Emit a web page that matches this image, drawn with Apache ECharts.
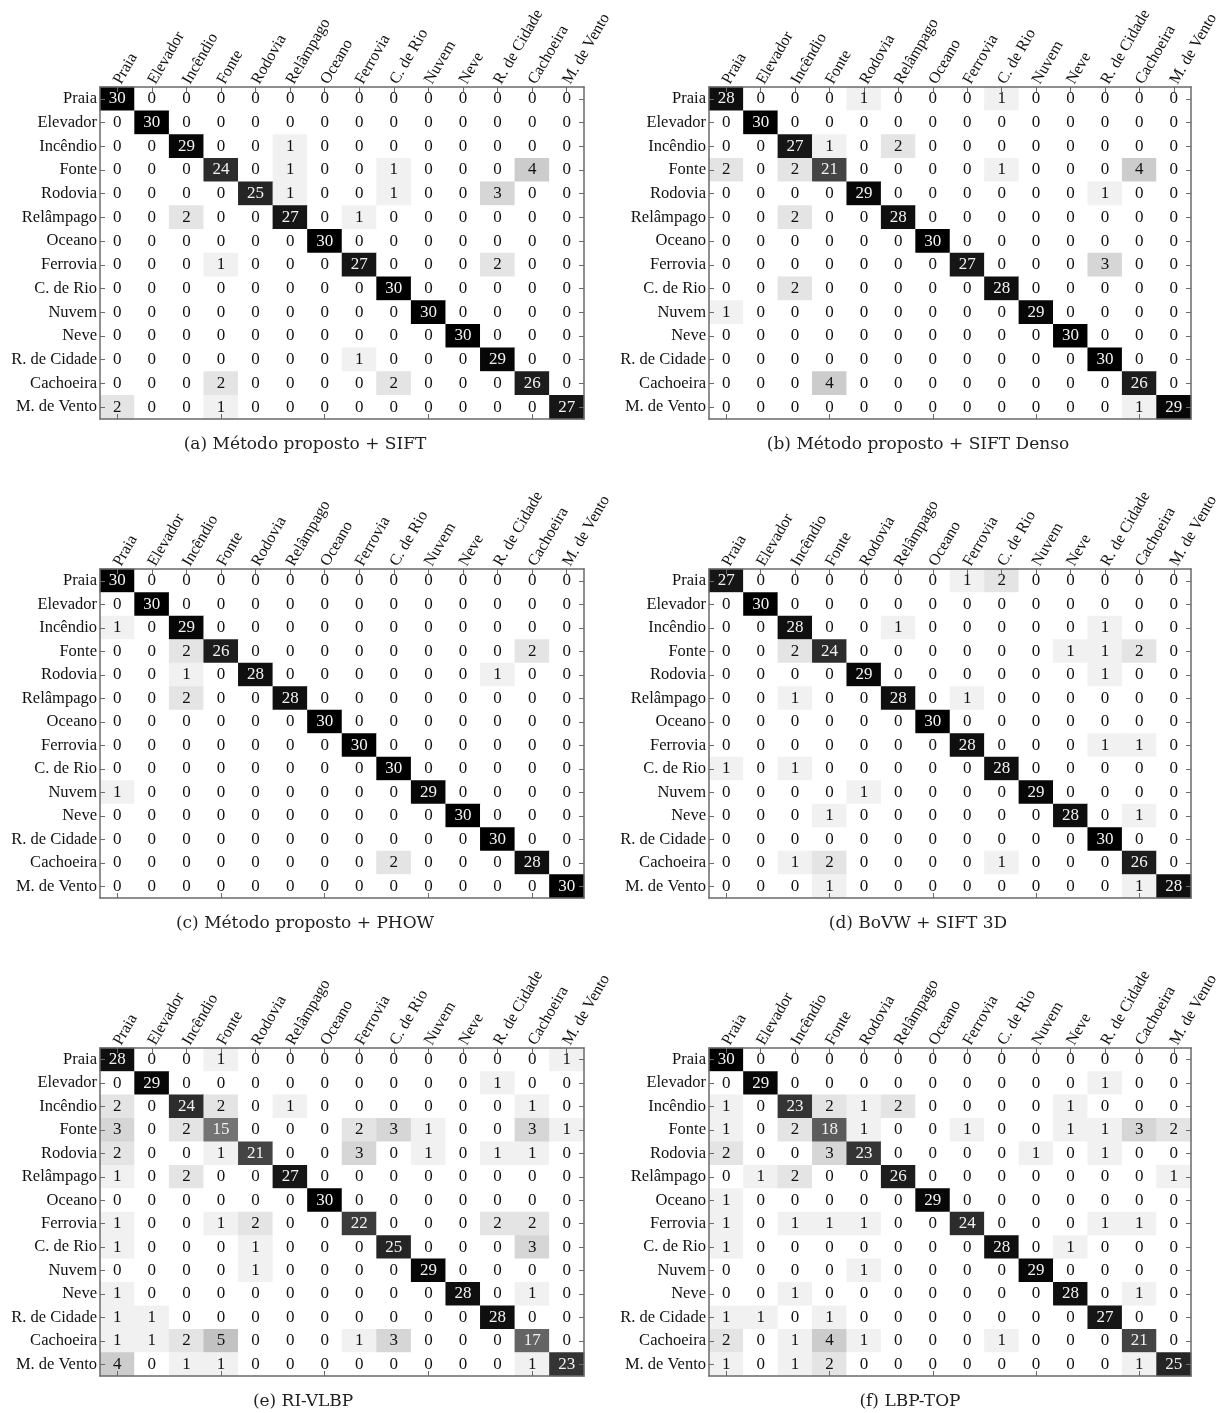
<!DOCTYPE html>
<html>
<head>
<meta charset="utf-8">
<script src="https://cdn.jsdelivr.net/npm/echarts@6/dist/echarts.min.js"></script>
<style>
  html, body { margin: 0; padding: 0; background: #fff; }
  #chart { width: 1230px; height: 1413px; }
</style>
</head>
<body>
<div id="chart"></div>
<script>
// classes: rows = real class, columns = predicted class
var classes = ['Praia', 'Elevador', 'Incêndio', 'Fonte', 'Rodovia', 'Relâmpago', 'Oceano',
  'Ferrovia', 'C. de Rio', 'Nuvem', 'Neve', 'R. de Cidade', 'Cachoeira', 'M. de Vento'];

// (a) Método proposto + SIFT
var matSift = [
  [30, 0, 0, 0, 0, 0, 0, 0, 0, 0, 0, 0, 0, 0],
  [0, 30, 0, 0, 0, 0, 0, 0, 0, 0, 0, 0, 0, 0],
  [0, 0, 29, 0, 0, 1, 0, 0, 0, 0, 0, 0, 0, 0],
  [0, 0, 0, 24, 0, 1, 0, 0, 1, 0, 0, 0, 4, 0],
  [0, 0, 0, 0, 25, 1, 0, 0, 1, 0, 0, 3, 0, 0],
  [0, 0, 2, 0, 0, 27, 0, 1, 0, 0, 0, 0, 0, 0],
  [0, 0, 0, 0, 0, 0, 30, 0, 0, 0, 0, 0, 0, 0],
  [0, 0, 0, 1, 0, 0, 0, 27, 0, 0, 0, 2, 0, 0],
  [0, 0, 0, 0, 0, 0, 0, 0, 30, 0, 0, 0, 0, 0],
  [0, 0, 0, 0, 0, 0, 0, 0, 0, 30, 0, 0, 0, 0],
  [0, 0, 0, 0, 0, 0, 0, 0, 0, 0, 30, 0, 0, 0],
  [0, 0, 0, 0, 0, 0, 0, 1, 0, 0, 0, 29, 0, 0],
  [0, 0, 0, 2, 0, 0, 0, 0, 2, 0, 0, 0, 26, 0],
  [2, 0, 0, 1, 0, 0, 0, 0, 0, 0, 0, 0, 0, 27]
];

// (b) Método proposto + SIFT Denso
var matSiftDenso = [
  [28, 0, 0, 0, 1, 0, 0, 0, 1, 0, 0, 0, 0, 0],
  [0, 30, 0, 0, 0, 0, 0, 0, 0, 0, 0, 0, 0, 0],
  [0, 0, 27, 1, 0, 2, 0, 0, 0, 0, 0, 0, 0, 0],
  [2, 0, 2, 21, 0, 0, 0, 0, 1, 0, 0, 0, 4, 0],
  [0, 0, 0, 0, 29, 0, 0, 0, 0, 0, 0, 1, 0, 0],
  [0, 0, 2, 0, 0, 28, 0, 0, 0, 0, 0, 0, 0, 0],
  [0, 0, 0, 0, 0, 0, 30, 0, 0, 0, 0, 0, 0, 0],
  [0, 0, 0, 0, 0, 0, 0, 27, 0, 0, 0, 3, 0, 0],
  [0, 0, 2, 0, 0, 0, 0, 0, 28, 0, 0, 0, 0, 0],
  [1, 0, 0, 0, 0, 0, 0, 0, 0, 29, 0, 0, 0, 0],
  [0, 0, 0, 0, 0, 0, 0, 0, 0, 0, 30, 0, 0, 0],
  [0, 0, 0, 0, 0, 0, 0, 0, 0, 0, 0, 30, 0, 0],
  [0, 0, 0, 4, 0, 0, 0, 0, 0, 0, 0, 0, 26, 0],
  [0, 0, 0, 0, 0, 0, 0, 0, 0, 0, 0, 0, 1, 29]
];

// (c) Método proposto + PHOW
var matPhow = [
  [30, 0, 0, 0, 0, 0, 0, 0, 0, 0, 0, 0, 0, 0],
  [0, 30, 0, 0, 0, 0, 0, 0, 0, 0, 0, 0, 0, 0],
  [1, 0, 29, 0, 0, 0, 0, 0, 0, 0, 0, 0, 0, 0],
  [0, 0, 2, 26, 0, 0, 0, 0, 0, 0, 0, 0, 2, 0],
  [0, 0, 1, 0, 28, 0, 0, 0, 0, 0, 0, 1, 0, 0],
  [0, 0, 2, 0, 0, 28, 0, 0, 0, 0, 0, 0, 0, 0],
  [0, 0, 0, 0, 0, 0, 30, 0, 0, 0, 0, 0, 0, 0],
  [0, 0, 0, 0, 0, 0, 0, 30, 0, 0, 0, 0, 0, 0],
  [0, 0, 0, 0, 0, 0, 0, 0, 30, 0, 0, 0, 0, 0],
  [1, 0, 0, 0, 0, 0, 0, 0, 0, 29, 0, 0, 0, 0],
  [0, 0, 0, 0, 0, 0, 0, 0, 0, 0, 30, 0, 0, 0],
  [0, 0, 0, 0, 0, 0, 0, 0, 0, 0, 0, 30, 0, 0],
  [0, 0, 0, 0, 0, 0, 0, 0, 2, 0, 0, 0, 28, 0],
  [0, 0, 0, 0, 0, 0, 0, 0, 0, 0, 0, 0, 0, 30]
];

// (d) BoVW + SIFT 3D
var matBovw = [
  [27, 0, 0, 0, 0, 0, 0, 1, 2, 0, 0, 0, 0, 0],
  [0, 30, 0, 0, 0, 0, 0, 0, 0, 0, 0, 0, 0, 0],
  [0, 0, 28, 0, 0, 1, 0, 0, 0, 0, 0, 1, 0, 0],
  [0, 0, 2, 24, 0, 0, 0, 0, 0, 0, 1, 1, 2, 0],
  [0, 0, 0, 0, 29, 0, 0, 0, 0, 0, 0, 1, 0, 0],
  [0, 0, 1, 0, 0, 28, 0, 1, 0, 0, 0, 0, 0, 0],
  [0, 0, 0, 0, 0, 0, 30, 0, 0, 0, 0, 0, 0, 0],
  [0, 0, 0, 0, 0, 0, 0, 28, 0, 0, 0, 1, 1, 0],
  [1, 0, 1, 0, 0, 0, 0, 0, 28, 0, 0, 0, 0, 0],
  [0, 0, 0, 0, 1, 0, 0, 0, 0, 29, 0, 0, 0, 0],
  [0, 0, 0, 1, 0, 0, 0, 0, 0, 0, 28, 0, 1, 0],
  [0, 0, 0, 0, 0, 0, 0, 0, 0, 0, 0, 30, 0, 0],
  [0, 0, 1, 2, 0, 0, 0, 0, 1, 0, 0, 0, 26, 0],
  [0, 0, 0, 1, 0, 0, 0, 0, 0, 0, 0, 0, 1, 28]
];

// (e) RI-VLBP
var matRiVlbp = [
  [28, 0, 0, 1, 0, 0, 0, 0, 0, 0, 0, 0, 0, 1],
  [0, 29, 0, 0, 0, 0, 0, 0, 0, 0, 0, 1, 0, 0],
  [2, 0, 24, 2, 0, 1, 0, 0, 0, 0, 0, 0, 1, 0],
  [3, 0, 2, 15, 0, 0, 0, 2, 3, 1, 0, 0, 3, 1],
  [2, 0, 0, 1, 21, 0, 0, 3, 0, 1, 0, 1, 1, 0],
  [1, 0, 2, 0, 0, 27, 0, 0, 0, 0, 0, 0, 0, 0],
  [0, 0, 0, 0, 0, 0, 30, 0, 0, 0, 0, 0, 0, 0],
  [1, 0, 0, 1, 2, 0, 0, 22, 0, 0, 0, 2, 2, 0],
  [1, 0, 0, 0, 1, 0, 0, 0, 25, 0, 0, 0, 3, 0],
  [0, 0, 0, 0, 1, 0, 0, 0, 0, 29, 0, 0, 0, 0],
  [1, 0, 0, 0, 0, 0, 0, 0, 0, 0, 28, 0, 1, 0],
  [1, 1, 0, 0, 0, 0, 0, 0, 0, 0, 0, 28, 0, 0],
  [1, 1, 2, 5, 0, 0, 0, 1, 3, 0, 0, 0, 17, 0],
  [4, 0, 1, 1, 0, 0, 0, 0, 0, 0, 0, 0, 1, 23]
];

// (f) LBP-TOP
var matLbpTop = [
  [30, 0, 0, 0, 0, 0, 0, 0, 0, 0, 0, 0, 0, 0],
  [0, 29, 0, 0, 0, 0, 0, 0, 0, 0, 0, 1, 0, 0],
  [1, 0, 23, 2, 1, 2, 0, 0, 0, 0, 1, 0, 0, 0],
  [1, 0, 2, 18, 1, 0, 0, 1, 0, 0, 1, 1, 3, 2],
  [2, 0, 0, 3, 23, 0, 0, 0, 0, 1, 0, 1, 0, 0],
  [0, 1, 2, 0, 0, 26, 0, 0, 0, 0, 0, 0, 0, 1],
  [1, 0, 0, 0, 0, 0, 29, 0, 0, 0, 0, 0, 0, 0],
  [1, 0, 1, 1, 1, 0, 0, 24, 0, 0, 0, 1, 1, 0],
  [1, 0, 0, 0, 0, 0, 0, 0, 28, 0, 1, 0, 0, 0],
  [0, 0, 0, 0, 1, 0, 0, 0, 0, 29, 0, 0, 0, 0],
  [0, 0, 1, 0, 0, 0, 0, 0, 0, 0, 28, 0, 1, 0],
  [1, 1, 0, 1, 0, 0, 0, 0, 0, 0, 0, 27, 0, 0],
  [2, 0, 1, 4, 1, 0, 0, 0, 1, 0, 0, 0, 21, 0],
  [1, 0, 1, 2, 0, 0, 0, 0, 0, 0, 0, 0, 1, 25]
];

var captions = ['(a) Método proposto + SIFT', '(b) Método proposto + SIFT Denso',
  '(c) Método proposto + PHOW', '(d) BoVW + SIFT 3D', '(e) RI-VLBP', '(f) LBP-TOP'];

var matrices = [matSift, matSiftDenso, matPhow, matBovw, matRiVlbp, matLbpTop];

// layout: [left, top, width, height] of each matrix, and caption centres
var boxes = [
  [100, 87, 484, 332], [709, 87, 482, 332],
  [100, 569, 484, 329], [709, 569, 482, 329],
  [100, 1048, 484, 328], [709, 1048, 482, 328]
];
var captionPos = [[305, 445], [918, 445], [305, 924], [918, 924], [303, 1402], [910, 1402]];

var serif = '"Liberation Serif", "Times New Roman", serif';
var frame = '#6a6a6a';

var gridList = [], xAxes = [], yAxes = [], seriesList = [], texts = [];

matrices.forEach(function (mat, k) {
  var b = boxes[k];
  gridList.push({ left: b[0], top: b[1], width: b[2], height: b[3], outerBoundsMode: 'none' });

  var tick = { show: true, inside: true, length: 5, alignWithLabel: true, lineStyle: { color: frame, width: 1 } };
  var line = { show: true, lineStyle: { color: frame, width: 1.5 } };

  // header labels go up to the right, starting at each column
  xAxes.push({
    gridIndex: k, type: 'category', data: classes, position: 'top', z: 5,
    axisLine: line, axisTick: tick, splitLine: { show: false },
    axisLabel: { rotate: -60, margin: 4, interval: 0, fontFamily: serif, fontSize: 16, color: '#111' }
  });
  xAxes.push({
    gridIndex: k, type: 'category', data: classes, position: 'bottom', z: 5,
    axisLine: line, axisTick: tick, axisLabel: { show: false }, splitLine: { show: false }
  });
  yAxes.push({
    gridIndex: k, type: 'category', data: classes, inverse: true, position: 'left', z: 5,
    axisLine: line, axisTick: tick, splitLine: { show: false },
    axisLabel: { margin: 3, interval: 0, fontFamily: serif, fontSize: 16.5, color: '#111' }
  });
  yAxes.push({
    gridIndex: k, type: 'category', data: classes, inverse: true, position: 'right', z: 5,
    axisLine: line, axisTick: tick, axisLabel: { show: false }, splitLine: { show: false }
  });

  var cells = [];
  mat.forEach(function (row, i) {
    row.forEach(function (v, j) { cells.push([j, i, v]); });
  });

  seriesList.push({
    type: 'heatmap',
    xAxisIndex: 2 * k,
    yAxisIndex: 2 * k,
    data: cells,
    emphasis: { disabled: true },
    label: {
      show: true,
      formatter: function (p) {
        var v = p.value[2];
        return v >= 13 ? '{w|' + v + '}' : '{k|' + v + '}';
      },
      rich: {
        w: { color: '#f2f2f2', fontFamily: serif, fontSize: 17 },
        k: { color: '#111', fontFamily: serif, fontSize: 17 }
      }
    }
  });

  texts.push({
    type: 'text',
    x: captionPos[k][0],
    y: captionPos[k][1],
    style: {
      text: captions[k],
      font: '17px "DejaVu Serif", serif',
      fill: '#222',
      textAlign: 'center',
      textVerticalAlign: 'middle'
    }
  });
});

var chart = echarts.init(document.getElementById('chart'), null, { renderer: 'canvas' });
chart.setOption({
  backgroundColor: '#fff',
  animation: false,
  tooltip: { show: false },
  grid: gridList,
  xAxis: xAxes,
  yAxis: yAxes,
  visualMap: {
    show: false,
    type: 'continuous',
    min: 0,
    max: 30,
    dimension: 2,
    seriesIndex: [0, 1, 2, 3, 4, 5],
    inRange: {
      color: ['#ffffff', '#d6d6d6', '#b8b8b8', '#9c9c9c', '#868686', '#747474',
        '#5c5c5c', '#444444', '#2c2c2c', '#161616', '#000000']
    }
  },
  series: seriesList,
  graphic: texts
});
</script>
</body>
</html>
